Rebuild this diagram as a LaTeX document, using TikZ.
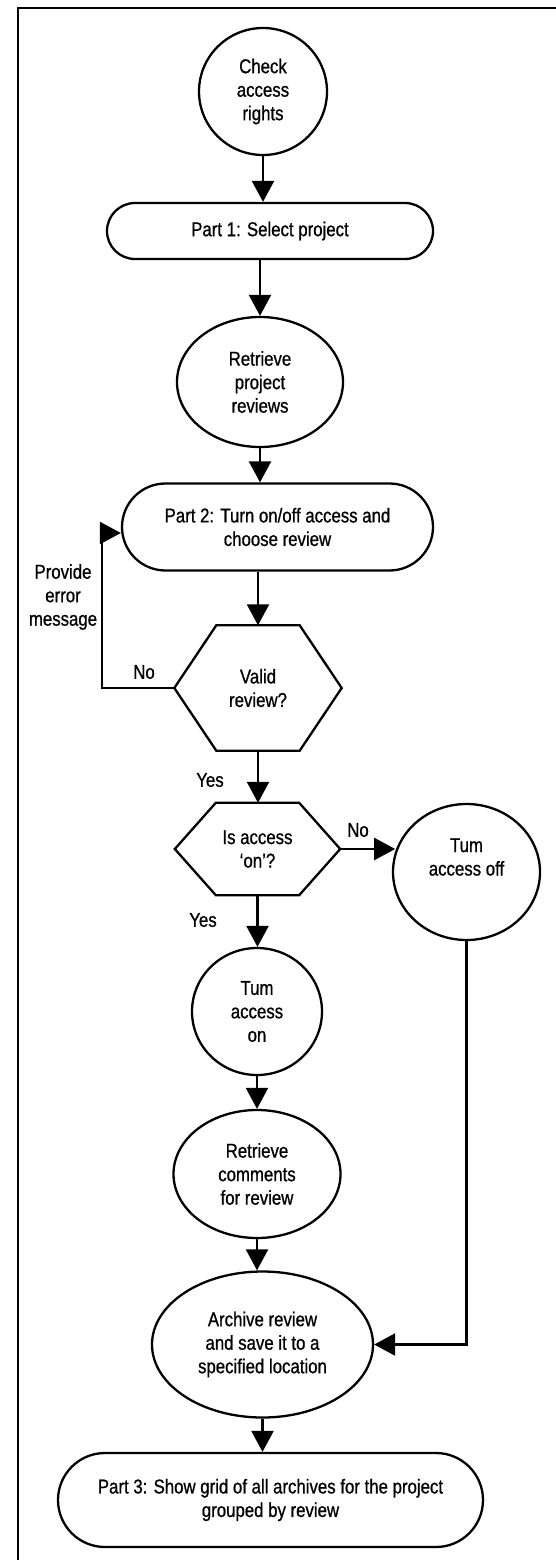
\documentclass[tikz,border=0pt]{standalone}
\usepackage{fontspec}
\setmainfont{Liberation Sans}[FakeStretch=0.84,FakeBold=0.8]
\usetikzlibrary{arrows.meta,shapes.geometric,shapes.misc,calc}
\begin{document}
\begin{tikzpicture}[x=1pt,y=-1pt,
  every node/.style={font=\fontsize{20pt}{23.5pt}\selectfont, inner sep=0pt, align=center},
  oval/.style={draw, ellipse, line width=2.3pt},
  stadium/.style={draw, rounded rectangle, line width=2.3pt},
  hexbox/.style={rectangle},
  hexline/.style={line width=2.3pt, line join=miter},
  arr/.style={-{Triangle[length=21pt,width=22pt]}, line width=2.3pt},
  lbl/.style={}
]
\useasboundingbox (0,0) rectangle (556,1560);
% frame
\draw[line width=2.5pt] (556,8) -- (18,8) -- (18,1560);

% nodes
\node[oval, minimum width=128pt, minimum height=127pt] (check) at (263,91.5) {Check\\access\\rights};
\node[stadium, minimum width=326pt, minimum height=56pt] (part1) at (270,231) {Part 1: Select project};
\node[oval, minimum width=166pt, minimum height=130pt] (retr) at (260,382) {Retrieve\\project\\reviews};
\node[stadium, minimum width=311pt, minimum height=87pt] (part2) at (277.5,527) {Part 2: Turn on/off access and\\choose review};
\node[hexbox, minimum width=167pt, minimum height=125pt] (valid) at (258,688) {Valid\\review?};
\draw[hexline] ($(valid.north west)+(42,0)$) -- ($(valid.north east)+(-42,0)$) -- (valid.east)
  -- ($(valid.south east)+(-42,0)$) -- ($(valid.south west)+(42,0)$) -- (valid.west) -- cycle;
\node[hexbox, minimum width=165pt, minimum height=92pt] (isacc) at (257.5,849) {Is access\\`on'?};
\draw[hexline] ($(isacc.north west)+(41,0)$) -- ($(isacc.north east)+(-41,0)$) -- (isacc.east)
  -- ($(isacc.south east)+(-41,0)$) -- ($(isacc.south west)+(41,0)$) -- (isacc.west) -- cycle;
\node[oval, minimum width=147pt, minimum height=136pt] (toff) at (466.5,872) {};
\node (tofftxt) at ($(toff)+(0,-15)$) {Tum\\access off};
\node[oval, minimum width=130pt, minimum height=127pt] (ton) at (257,1011.5) {Tum\\access\\on};
\node[oval, minimum width=167pt, minimum height=128pt] (comm) at (257,1174) {Retrieve\\comments\\for review};
\node[oval, minimum width=221pt, minimum height=146pt] (arch) at (262.5,1344.5) {Archive review\\and save it to a\\specified location};
\node[stadium, minimum width=425pt, minimum height=94pt] (part3) at (270.5,1500) {Part 3: Show grid of all archives for the project\\grouped by review};

% labels
\node[lbl] (errmsg) at (63,597) {Provide\\error\\message};
\node[lbl] (no1) at (144,672) {No};
\node[lbl] (yes1) at (210,780) {Yes};
\node[lbl] (no2) at (358,830) {No};
\node[lbl] (yes2) at (203,920) {Yes};

% connectors
\draw[arr] (check.south) -- (check.south |- part1.north);
\draw[arr] (retr.north |- part1.south) -- (retr.north);
\draw[arr] (retr.south) -- (retr.south |- part2.north);
\draw[arr] (valid.north |- part2.south) -- (valid.north);
\draw[arr] (valid.south) -- (valid.south |- isacc.north);
\draw[arr] (isacc.south) -- (isacc.south |- ton.north);
\draw[arr] (ton.south) -- (ton.south |- comm.north);
\draw[arr] (comm.south) -- (comm.south |- arch.north);
\draw[arr] (arch.south) -- (arch.south |- part3.north);
\draw[arr] (isacc.east) -- (isacc.east -| toff.164);
\draw[arr] (toff.south) |- (arch.east);
\coordinate (fb) at (102,533);
\draw[arr] (valid.west) -| (fb) -- (fb -| part2.west);
\end{tikzpicture}
\end{document}
